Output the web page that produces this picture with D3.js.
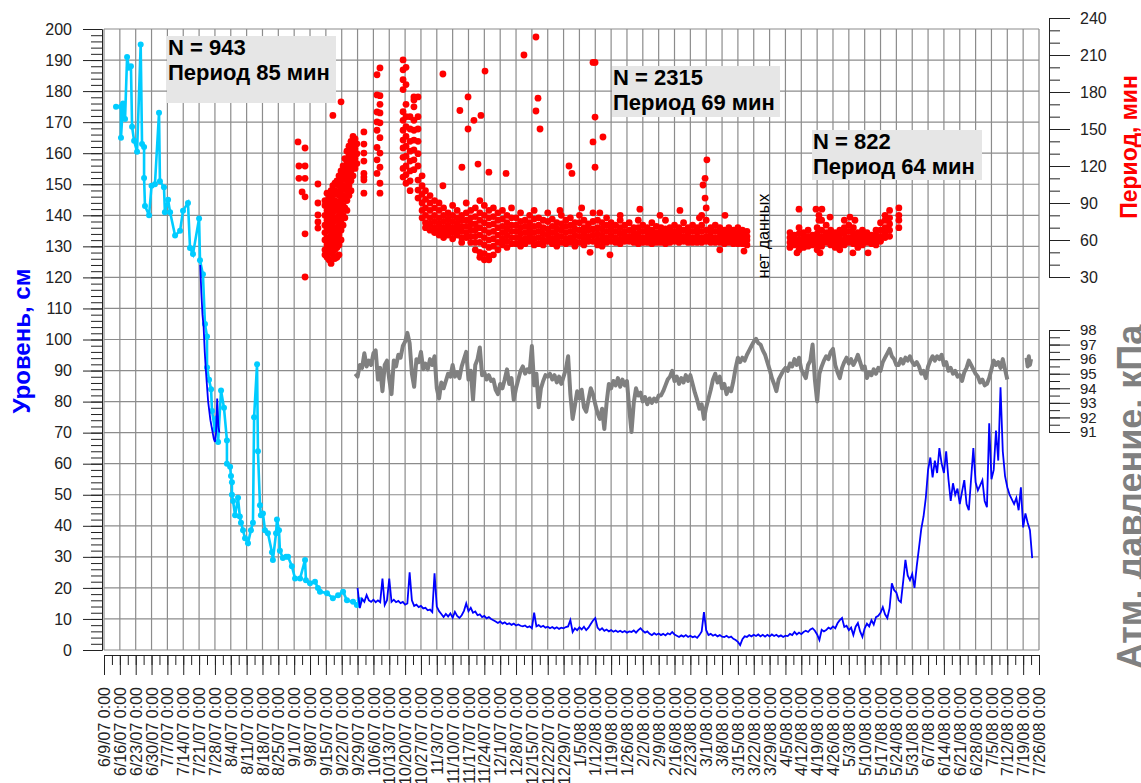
<!DOCTYPE html>
<html>
<head>
<meta charset="utf-8">
<script src="https://cdnjs.cloudflare.com/ajax/libs/d3/7.8.5/d3.min.js"></script>
<style>
body{margin:0;background:#fff}
</style>
</head>
<body>
<svg id="chart"></svg>
<script>
// time axis: weekly ticks from 6/9/07 to 7/26/08, data x values are days since START
var START = new Date(2007, 5, 9), END = new Date(2008, 6, 26)
var weekTicks = d3.timeDay.range(START, d3.timeDay.offset(END, 1), 7)
var levelTicks = d3.range(0, 201, 10)
var periodTicks = [30, 60, 90, 120, 150, 180, 210, 240]
var pressTicks = [91, 92, 93, 94, 95, 96, 97, 98]

// manual level readings (cyan), [day, cm]
var manualLevel = [[5.3,175],[7.5,175],[7.5,165],[8.4,176],[9.3,171],[10.2,191],[11,187.5],[11.9,188],[12.4,168.5],[13.3,164],[14.6,160.5],[16.2,195],[16.8,163],[17.7,162],[17.7,152],[18.1,143],[19.9,140],[21,149.5],[22.5,150],[24.3,173],[24.7,151],[26.5,149],[26.9,141],[28.3,145],[29.2,141],[31.4,133.5],[33.6,135],[34.9,141.5],[37.1,144],[38,129.5],[39.3,127.5],[42,139],[42.4,125.5],[43.7,121],[44.6,105],[45.5,101],[45.5,91],[46.4,87],[47.3,84],[47.7,77],[49,71],[49.9,74.6],[50.4,67],[51.7,83.6],[53,78],[54.3,67.5],[54.3,60],[55.7,59],[56.1,56],[56.5,54],[56.5,50],[57,48],[57.9,43.4],[59.2,49],[60,43],[60.5,41],[61.4,38.6],[62.3,36],[63.6,34.4],[64.9,38.6],[65.8,41],[66.3,75],[67.6,92],[68,64],[68.9,46.6],[69.3,43.4],[70.2,44],[71.1,38.6],[72.4,37.6],[74.2,31.5],[74.6,29],[76,37.6],[76.4,42],[77.3,38.6],[77.7,32],[79,29.6],[80.4,30],[81.3,30],[83,27],[84.4,23],[86.6,23],[88.8,29],[89.2,22.5],[91,21.5],[93.2,22],[94.5,20],[95.4,18.8],[98.5,18.3],[101.1,16.7],[103.4,17.6],[105.6,18.8],[107.3,16],[110,15.5],[111.7,14.5],[113,16]]

// logger level (blue), first short piece every 0.5 day from day 42.5
var loggerAStart = 42.5
var loggerA = [124,115,108,104,96,90,85,80,77,74,72,70,68,67,70,81,72,70]
// logger level, daily from day 112
var loggerStart = 112
var loggerLevel = [20,13.5,16.5,15.5,17.7,16,15.5,16.2,15.4,16,15.4,23,14.5,16,23,15.5,16.2,15.4,15.8,15.1,15.5,14.6,15,25,16,14.2,14.6,13.8,14.2,13.4,13.6,12.8,13,12.2,24.7,14,12.5,11.6,10.6,11.6,10.8,11.8,10.4,12.3,11,10.3,11.2,12.6,15,12.5,13.6,12,12.4,11.2,11.5,10.6,11,10.2,10.6,10,9.6,9.2,8.7,9.2,8.5,8.9,8.3,8.6,8.1,8.5,7.9,8.2,7.8,7.6,7.9,7.3,7.6,7,12,7.6,8,7.4,7.8,7.2,7.5,7,7.4,6.9,7.3,6.8,7.2,7,7.4,7.6,9.6,5.8,7,6.4,7.3,6.6,7.5,6.4,7.2,8.4,9.5,10.3,7.2,6.4,7,6.2,6.6,6,6.4,5.9,6.3,5.8,6.2,5.7,6.1,5.6,6,5.8,6.3,5.6,6.4,7,6.2,5.6,6,5.2,4.8,5.4,4.9,5.3,4.8,5.2,4.7,5.4,5,5.8,5,4.6,4.2,4.7,4.3,4.8,4.2,4.6,4.1,4.4,3.9,4.8,6,12.2,6.4,4.8,5.2,4.6,5,4.4,4.8,4.3,4.2,4.6,4,4.3,3.6,3.2,2.6,1.6,3.5,4.4,4.2,4.8,4.4,4.9,4.5,5,4.4,4.9,4.3,4.9,4.4,5,4.5,4.9,4.3,4.7,4.2,4.6,4.5,5.2,4.8,5.8,5,5.6,5.1,5.8,6.2,5.8,6.6,7,6.2,5,3.2,6.5,6,6.4,7.2,6.8,7.6,7,8.6,9.6,10.3,7.4,7.8,6.4,7.2,4.8,7.5,8.7,6,4.2,7,8.5,7.6,9.6,8.2,10.6,11,12,13.8,11.5,10.3,13.5,21.5,19.3,18.5,16,15.4,22,29,24,22.5,24.5,20,27,33,39,43,49,58,62,55.6,61,57,65,60,57,64,55,48,53.7,50,52,47,51,54.7,47,45,55,65,54,51.4,53,54.7,48,46,73,55,58,70.7,61,84.6,64,56,52.4,50,48.5,47,49,45,52.4,39.5,44,41,38.6,29.6]

// atmospheric pressure, kPa, daily from day 111, plus a short tail
var pressStart = 111
var pressure = [95.0,94.8,95.6,95.4,96.4,95.5,95.9,95.6,96.4,96.6,94.6,95.4,93.8,95.6,95.9,94.6,93.6,95.9,95.5,96.3,96.1,96.9,97.2,97.8,97.1,95.0,94.1,96.0,95.8,96.5,95.3,95.7,95.3,96.0,95.6,96.2,94.0,93.3,94.4,94.0,94.5,95.0,94.8,95.6,94.8,95.1,94.7,95.5,96.0,96.5,94.6,95.2,93.2,95.6,96.0,96.8,94.9,95.1,94.6,94.9,94.5,94.6,93.9,93.6,94.3,94.0,94.6,95.3,94.3,94.7,93.2,94.0,94.6,95.2,95.5,95.0,95.3,95.1,96.9,94.2,95.0,92.7,94.0,94.5,94.9,94.8,95.0,94.6,94.9,94.4,94.8,94.3,94.8,95.3,96.2,93.6,91.9,92.8,93.8,93.3,93.9,92.7,92.4,93.2,94.0,93.6,92.9,92.3,91.9,92.6,91.2,93.0,94.3,94.0,94.5,94.2,94.7,94.1,94.6,94.2,94.5,92.6,91.0,93.0,94.0,93.5,93.7,93.1,93.4,92.9,93.3,93.0,93.3,93.1,93.5,93.5,93.8,94.2,94.6,94.8,95.2,94.5,94.8,94.3,94.7,94.4,94.9,94.5,94.9,94.3,93.7,93.2,92.6,92.9,91.9,92.7,93.3,93.9,94.6,95.0,94.4,94.8,94.0,94.3,93.6,94.0,93.8,94.5,95.4,96.1,95.8,96.1,95.9,96.3,96.6,96.9,97.2,97.4,97.1,97.0,96.6,96.3,95.8,95.3,94.7,94.3,93.8,94.6,94.9,95.2,95.4,95.2,95.7,95.5,96.0,95.6,96.1,95.3,95.0,94.7,95.6,95.9,97.0,94.6,93.1,95.0,95.5,95.9,96.2,96.0,96.5,96.7,95.6,95.1,94.7,95.4,95.8,96.1,95.7,96.0,95.6,95.9,96.3,95.8,95.3,95.5,94.7,95.1,94.9,95.3,95.0,95.4,95.2,95.8,96.1,96.4,96.7,96.2,96.0,95.6,95.6,96.0,95.7,96.1,95.9,96.2,95.8,95.6,95.8,95.5,95.0,95.2,94.7,95.5,95.9,96.2,95.9,96.2,96.0,96.3,95.6,95.8,95.2,95.4,95.0,95.2,94.8,94.9,94.5,95.1,95.4,95.9,95.6,95.3,95.0,94.8,94.4,94.6,94.2,94.3,94.7,95.3,95.9,95.6,95.8,95.4,96.0,95.3,94.6]
var pressTailStart = 407.5
var pressTail = [96.1,95.5,96.2,95.6,96.0]

// oscillation period, min: sparse columns [day, p1, p2, ...]
var periodSparse = [[85.7,139.5],[86.1,120,110],[87.5,99],[88.8,134.6,120,110,95,65,30],[94.5,105.4,90,80.3,74.6,69.7],
[97.6,92,88,80,72,66,60,52,48],[98.5,98,90,84,76,70,62,56,50,46],[99.4,94,86,80,74,68,60,54,44],[100.3,100,92,84,78,70,64,58,50,41],[101.1,161,104,96,88,82,74,68,62,56,48],[102,106,100,92,86,78,70,64,58,52,45],[102.9,108,98,90,84,76,68,60,54,46],[103.8,112,104,96,88,80,72,64,56,48],[104.7,172,116,108,100,92,84,76,68,60],[105.6,120,112,104,96,88,80,72],[106.4,126,118,110,102,94,86,78],[107.3,132,124,116,108,100,92,84],[108.2,136,128,120,112,104,96],[109.1,140,132,124,116,108,100],[110,144,136,128,120,112],[110.9,142,134,126,118],[111.7,138,130,122],[114.8,147.6,137.8,130.5,124,114,111,108.6,98],
[120.6,194,177.6,163.8,155.7,149,135,125,114],[121.9,199.5,177,170,163,155,143,130.5,119,106,98],
[132.1,206,198,190,182,164,157,149,141,134.6,127,118,111],[133.4,200,186,170,160,152,144,136,128,120,113,106],[135.2,160,150,140,132,124,116,108,100],[136.9,176,173.5,168,157,149,141,133,125,117],[138.7,176,160,150,140,130,120,108.6,100.5,94],[140.5,112,104,97,90,84,78],
[149.7,194.6,104],[157.2,165],[158.1,119],[160.8,176,150],[163.4,157],[165.2,121.6],[166.5,161],[168.3,197],[170,115],[177.6,114],[185.5,210],[190.8,224.6,164.6],[191.7,175],[192.6,150],[205.4,120],[206.7,114],[216,204,139.5],[216.9,204,159.7,119],[220.4,143.5],[264.6,104.6],[265.5,110,94],[266.3,125],
[201.4,84],[211,86],[214.7,50],[219,82],[223.5,48],[228,80],[236.7,85],[245.6,80],[254.4,84],[263,78],[272,52],[274.3,80],[282.7,51],
[306.1,49.5],[307,85],[314.5,85],[315.8,80,76],[316.3,49.5],[317.1,85],[320.7,78.6],[329.5,78.6],[330.8,49.5],[331.7,76],[337.5,49.5],[351.1,86,80,76,70]]

// dense period band, one column every 2 days
var bandStart = 142
var periodBand = [[100,93,86,80,74,70],[96,90,84,78,73,68],[92,86,80,75,70,66],[90,84,78,73,68,64],[86,80,75,70,66,62],[82,77,72,68,64],[88,80,75,70,66,61],[84,78,73,69,64],[80,76,71,67,62,58],[90,82,76,71,66,62],[84,78,73,68,63,58],
[86,79,73,68,63,58,52],[92,82,76,70,64,58,50,46],[88,80,74,68,62,56,49,44],[84,78,72,66,60,54,47,44],[86,79,73,67,61,55,48],[82,76,70,64,58,52],[84,77,71,66,61,56],[80,74,69,64,59,54],[86,78,72,67,62,57],
[78,72,67,62,57],[82,75,70,65,60,55],[76,71,66,61,57],[80,74,69,64,59],[84,77,71,66,61,56],[78,72,67,62,57],[76,70,65,60,56],[82,75,69,64,59],[77,71,66,61,57],[74,69,64,60,55],[80,73,68,63,58],[76,71,66,61,57],[78,72,67,62,58],[74,69,64,59,55],[80,74,68,63,58],[76,70,65,60,56],[73,68,63,59],[82,75,69,64,59],[76,70,65,60,56],[74,69,64,60,55],[78,72,67,62,58],[74,69,64,59],
[72,67,62,58],[76,70,65,60,57],[72,67,63,59],[74,68,63,59],[70,66,62,58],[76,70,65,61,57],[72,67,62,58],[70,66,62,58],[74,68,64,60,57],[71,66,62,58],[70,66,62,58],[76,69,64,60,57],[70,66,62,58],[72,67,63,59],[70,66,62,58],[74,68,63,59],[70,66,62,58],[72,67,62,58],[70,66,62,58],[80,72,67,62,58],[86,76,68,63,59],[70,66,62,58],[72,67,62,58],[70,66,62,58],[68,64,60,57],[70,66,62,58],[68,64,60,57],[70,65,61,57],[68,64,60,57],[67,63,60,56]]
var band2Start = 303
var periodBand2 = [[66,62,58,54],[64,60,56],[70,65,60,56,52],[66,62,58,54],[68,63,59,55],[64,60,56],[70,65,61,57,52],[76,68,63,59,55],[72,66,62,58],[68,64,60,56],[66,62,58,54],[68,64,60,56,52],[76,70,65,60,56],[72,67,62,58],[70,65,61,57],[66,62,58,54],[68,64,60,56],[66,62,58],[64,60,57],[68,64,60,56],[74,68,63,59],[80,76,70,66,62],[84,78,73,68,63]]

var notes = [
  {lines: ["N = 943", "Период 85 мин"], box: [167, 36, 169, 67]},
  {lines: ["N = 2315", "Период 69 мин"], box: [612, 66, 168, 51]},
  {lines: ["N = 822", "Период 64 мин"], box: [812, 130, 170, 50]}
]

var FONT = "Arial, 'Liberation Sans', sans-serif"
var plot = {left: 104, right: 1039, top: 29, bottom: 650}

var day = function(d){ return new Date(+START + d * 864e5) }

var svg = d3.select("#chart").attr("width", 1141).attr("height", 783)
    .style("font-family", FONT)

var x = d3.scaleTime().domain([START, END]).range([plot.left, plot.right])
var yLevel = d3.scaleLinear().domain([0, 200]).range([plot.bottom, plot.top])
var yPeriod = d3.scaleLinear().domain([30, 240]).range([277, 18])
var yPress = d3.scaleLinear().domain([91, 98]).range([432, 330])

// grid
var grid = svg.append("g").attr("stroke", "#8c8c8c").attr("stroke-width", 1.2)
grid.selectAll(".gh").data(levelTicks).enter().append("line")
    .attr("x1", plot.left).attr("x2", plot.right)
    .attr("y1", function(d){ return yLevel(d) }).attr("y2", function(d){ return yLevel(d) })
grid.selectAll(".gv").data(weekTicks).enter().append("line")
    .attr("y1", plot.top).attr("y2", plot.bottom)
    .attr("x1", function(d){ return x(d) }).attr("x2", function(d){ return x(d) })

// annotation boxes
notes.forEach(function(n){
    svg.append("rect").attr("x", n.box[0]).attr("y", n.box[1])
        .attr("width", n.box[2]).attr("height", n.box[3]).attr("fill", "#e6e6e6")
    n.lines.forEach(function(t, i){
        svg.append("text").attr("x", n.box[0] + 1).attr("y", n.box[1] + 19 + i * 24.5)
            .attr("font-size", 22).attr("font-weight", "bold").attr("fill", "#000").text(t)
    })
})

// left axis
svg.append("g").attr("transform", "translate(102,0)")
    .call(d3.axisLeft(yLevel).tickValues(d3.range(0, 201, 2)).tickSize(11).tickFormat("").tickSizeOuter(0))
    .attr("color", "#222")
svg.append("g").attr("transform", "translate(102,0)")
    .call(d3.axisLeft(yLevel).tickValues(levelTicks).tickSize(19).tickPadding(11).tickSizeOuter(0))
    .attr("color", "#222").attr("font-size", 16).attr("font-family", FONT)

// right axes
svg.append("g").attr("transform", "translate(1049,0)")
    .call(d3.axisRight(yPeriod).tickValues(d3.range(30, 241, 10)).tickSize(11).tickFormat("").tickSizeOuter(0))
    .attr("color", "#222")
svg.append("g").attr("transform", "translate(1049,0)")
    .call(d3.axisRight(yPeriod).tickValues(periodTicks).tickSize(21).tickPadding(10).tickSizeOuter(0))
    .attr("color", "#222").attr("font-size", 16).attr("font-family", FONT)
svg.append("g").attr("transform", "translate(1049,0)")
    .call(d3.axisRight(yPress).tickValues(d3.range(91, 98.01, 0.5)).tickSize(11).tickFormat("").tickSizeOuter(0))
    .attr("color", "#222")
svg.append("g").attr("transform", "translate(1049,0)")
    .call(d3.axisRight(yPress).tickValues(pressTicks).tickSize(21).tickPadding(10).tickSizeOuter(0)
        .tickFormat(d3.format("d")))
    .attr("color", "#222").attr("font-size", 15).attr("font-family", FONT)

// bottom axis
var fmt = d3.timeFormat("%-m/%-d/%y 0:00")
var xg = svg.append("g").attr("transform", "translate(0,655)")
xg.call(d3.axisBottom(x).tickValues(d3.range(0, 413.1, 3.5).map(day)).tickSize(10).tickFormat("").tickSizeOuter(0))
    .attr("color", "#222")
xg.append("g")
    .call(d3.axisBottom(x).tickValues(weekTicks).tickSize(20).tickFormat(fmt).tickSizeOuter(0))
    .attr("color", "#222").attr("font-size", 16).attr("font-family", FONT)
    .selectAll("text")
    .attr("transform", "rotate(-90)").attr("x", -32).attr("y", 0)
    .attr("dy", "0.35em").attr("text-anchor", "end")

// pressure line
var linePress = d3.line()
    .x(function(d){ return x(day(d[0])) })
    .y(function(d){ return yPress(d[1]) })
var pressMain = pressure.map(function(v, i){ return [pressStart + i, v] })
var pressEnd = pressTail.map(function(v, i){ return [pressTailStart + i * 0.5, v] })
;[pressMain, pressEnd].forEach(function(s){
    svg.append("path").datum(s).attr("d", linePress)
        .attr("fill", "none").attr("stroke", "#808080").attr("stroke-width", 4)
        .attr("stroke-linejoin", "round")
})

// level lines
var lineLevel = d3.line()
    .x(function(d){ return x(day(d[0])) })
    .y(function(d){ return yLevel(d[1]) })
var blueA = loggerA.map(function(v, i){ return [loggerAStart + i * 0.5, v] })
var blueB = loggerLevel.map(function(v, i){ return [loggerStart + i, v] })

svg.append("path").datum(manualLevel).attr("d", lineLevel)
    .attr("fill", "none").attr("stroke", "#00ccff").attr("stroke-width", 2.6)
svg.selectAll(".mp").data(manualLevel).enter().append("circle")
    .attr("cx", function(d){ return x(day(d[0])) })
    .attr("cy", function(d){ return yLevel(d[1]) })
    .attr("r", 3).attr("fill", "#00ccff")
;[blueA, blueB].forEach(function(s){
    svg.append("path").datum(s).attr("d", lineLevel)
        .attr("fill", "none").attr("stroke", "#0000ff").attr("stroke-width", 1.8)
})

// period dots
var dots = []
periodSparse.forEach(function(c){
    c.slice(1).forEach(function(p){ dots.push([c[0], p]) })
})
periodBand.forEach(function(c, i){
    c.forEach(function(p){ dots.push([bandStart + i * 2, p]) })
})
periodBand2.forEach(function(c, i){
    c.forEach(function(p){ dots.push([band2Start + i * 2, p]) })
})
svg.selectAll(".pd").data(dots).enter().append("circle")
    .attr("cx", function(d){ return x(day(d[0])) })
    .attr("cy", function(d){ return yPeriod(d[1]) })
    .attr("r", 3.4).attr("fill", "#ff0000")

svg.append("text").attr("transform", "translate(769,236) rotate(-90)")
    .attr("text-anchor", "middle").attr("font-size", 16).attr("fill", "#000").text("нет данных")

// axis titles
svg.append("text").attr("transform", "translate(30,341) rotate(-90)")
    .attr("text-anchor", "middle").attr("font-size", 24).attr("font-weight", "bold")
    .attr("fill", "#0000ff").text("Уровень, см")
svg.append("text").attr("transform", "translate(1137,147) rotate(-90)")
    .attr("text-anchor", "middle").attr("font-size", 23).attr("font-weight", "bold")
    .attr("fill", "#ff0000").text("Период, мин")
svg.append("text").attr("transform", "translate(1143,497) rotate(-90)")
    .attr("text-anchor", "middle").attr("font-size", 36).attr("font-weight", "bold")
    .attr("fill", "#808080").text("Атм. давление, кПа")
</script>
</body>
</html>
